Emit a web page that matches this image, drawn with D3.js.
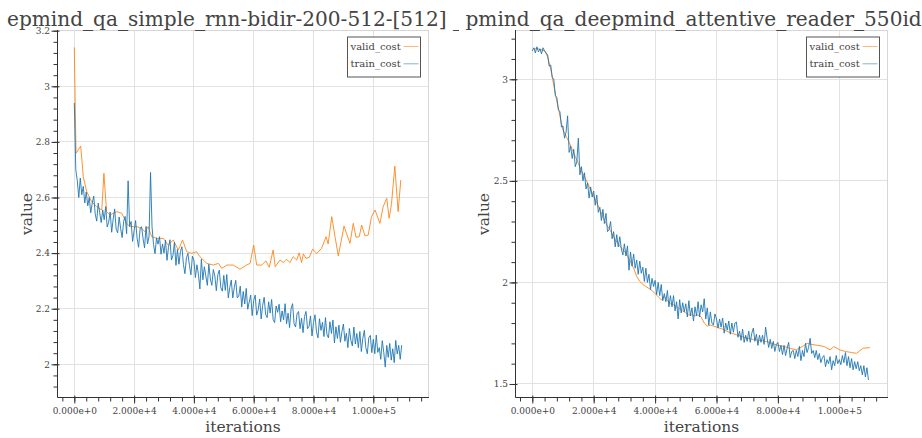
<!DOCTYPE html>
<html><head><meta charset="utf-8">
<script src="https://cdn.jsdelivr.net/npm/d3@7"></script>
<style>
body{margin:0;background:#fff}
svg{display:block}
text{font-family:"DejaVu Serif",serif;fill:#444}
</style>
</head><body>
<svg id="c" width="922" height="438"></svg>
<script>
// ---------------- data ----------------
const seriesNames = ["valid_cost", "train_cost"];
const leftTitle = "epmind_qa_simple_rnn-bidir-200-512-[512] _";
const rightTitle = "pmind_qa_deepmind_attentive_reader_550id";
const xTicks = [0, 20000, 40000, 60000, 80000, 100000];
const leftYTicks = [2, 2.2, 2.4, 2.6, 2.8, 3, 3.2];
const rightYTicks = [1.5, 2, 2.5, 3];
const trainStep = 500; // iterations between logged train_cost points

const leftValidIter = [
  0, 570, 2140, 3000, 4150, 5800, 7500, 9200, 9900, 10800,
  11900, 14200, 15900, 17500, 18600, 20900, 22500, 23600, 24700, 25900,
  27600, 29800, 31400, 33100, 34800, 36200, 37600, 39300, 40900, 42000,
  44300, 46500, 48200, 49300, 51000, 53200, 55400, 57600, 58800, 60000,
  61000, 62700, 64100, 65200, 66500, 67200, 68800, 69900, 71000, 72100,
  73200, 74400, 75200, 76000, 76600, 77500, 78600, 79700, 81100, 82700,
  84200, 84900, 86100, 87200, 88300, 90200, 92200, 93300, 94200, 95300,
  96100, 97200, 98300, 99400, 100600, 102200, 103300, 104500, 105300, 106100,
  107200, 108300, 109200];
const leftValidCost = [
  3.140, 2.759, 2.785, 2.675, 2.621, 2.585, 2.567, 2.555, 2.687, 2.549,
  2.537, 2.549, 2.543, 2.507, 2.495, 2.495, 2.489, 2.477, 2.495, 2.459,
  2.453, 2.453, 2.429, 2.447, 2.411, 2.447, 2.405, 2.399, 2.405, 2.387,
  2.363, 2.357, 2.363, 2.345, 2.357, 2.357, 2.342, 2.357, 2.363, 2.429,
  2.357, 2.357, 2.372, 2.349, 2.411, 2.351, 2.375, 2.366, 2.378, 2.366,
  2.387, 2.375, 2.401, 2.366, 2.397, 2.381, 2.385, 2.414, 2.399, 2.417,
  2.459, 2.433, 2.531, 2.459, 2.390, 2.497, 2.435, 2.507, 2.457, 2.459,
  2.501, 2.462, 2.465, 2.531, 2.555, 2.507, 2.567, 2.597, 2.525, 2.579,
  2.713, 2.549, 2.663];
const leftTrainCost = [
  2.94, 2.70, 2.66, 2.60, 2.67, 2.61, 2.64, 2.58, 2.62, 2.57,
  2.60, 2.545, 2.58, 2.605, 2.54, 2.515, 2.58, 2.545, 2.51, 2.555,
  2.52, 2.567, 2.494, 2.511, 2.548, 2.475, 2.522, 2.559, 2.486, 2.473,
  2.53, 2.488, 2.456, 2.514, 2.532, 2.47, 2.66, 2.496, 2.514, 2.442,
  2.48, 2.517, 2.454, 2.421, 2.488, 2.495, 2.452, 2.419, 2.496, 2.433,
  2.46, 2.69, 2.494, 2.431, 2.398, 2.455, 2.432, 2.459, 2.396, 2.433,
  2.40, 2.447, 2.374, 2.421, 2.448, 2.375, 2.392, 2.439, 2.356, 2.413,
  2.36, 2.406, 2.423, 2.359, 2.326, 2.383, 2.399, 2.356, 2.322, 2.389,
  2.375, 2.312, 2.358, 2.325, 2.271, 2.378, 2.304, 2.351, 2.317, 2.284,
  2.36, 2.307, 2.284, 2.341, 2.318, 2.265, 2.322, 2.339, 2.276, 2.263,
  2.32, 2.266, 2.323, 2.239, 2.276, 2.303, 2.239, 2.276, 2.302, 2.239,
  2.245, 2.281, 2.206, 2.262, 2.217, 2.273, 2.198, 2.224, 2.249, 2.175,
  2.23, 2.249, 2.177, 2.196, 2.235, 2.163, 2.212, 2.241, 2.179, 2.168,
  2.225, 2.184, 2.233, 2.161, 2.15, 2.21, 2.187, 2.216, 2.153, 2.192,
  2.16, 2.218, 2.146, 2.184, 2.132, 2.20, 2.218, 2.146, 2.134, 2.182,
  2.19, 2.128, 2.166, 2.114, 2.172, 2.19, 2.128, 2.136, 2.174, 2.102,
  2.15, 2.178, 2.117, 2.095, 2.164, 2.122, 2.151, 2.10, 2.168, 2.107,
  2.095, 2.153, 2.111, 2.159, 2.077, 2.135, 2.093, 2.141, 2.079, 2.117,
  2.145, 2.083, 2.112, 2.06, 2.129, 2.087, 2.066, 2.134, 2.073, 2.111,
  2.06, 2.118, 2.046, 2.094, 2.122, 2.06, 2.038, 2.096, 2.104, 2.042,
  2.09, 2.038, 2.105, 2.043, 2.06, 2.018, 2.085, 2.043, 1.99, 2.068,
  2.025, 2.075, 2.015, 2.056, 2.006, 2.086, 2.037, 2.068, 2.018, 2.069];

const rightValidIter = [
  500, 2000, 4000, 5000, 6000, 7000, 8000, 9000, 10000, 11000,
  12000, 13000, 14000, 15000, 16000, 17000, 18000, 19000, 20000, 21000,
  22000, 23000, 24000, 25000, 26000, 27000, 28000, 29000, 30000, 31000,
  32000, 33000, 34000, 35000, 36000, 37000, 38000, 39000, 40000, 41000,
  42000, 43000, 44000, 45000, 46000, 47000, 48000, 49000, 50000, 51000,
  52000, 53000, 54000, 55000, 56000, 57000, 58000, 59000, 60000, 62000,
  64000, 66000, 68000, 70000, 72000, 74000, 76000, 78000, 80000, 82000,
  84000, 86000, 88000, 89500, 91000, 93000, 95000, 97000, 98200, 100200,
  102000, 104000, 105600, 107700, 110000];
const rightValidCost = [
  3.15, 3.15, 3.14, 3.11, 3.05, 2.97, 2.89, 2.82, 2.75, 2.72,
  2.69, 2.655, 2.62, 2.585, 2.55, 2.52, 2.49, 2.455, 2.425, 2.39,
  2.36, 2.32, 2.29, 2.265, 2.24, 2.21, 2.19, 2.17, 2.155, 2.13,
  2.10, 2.07, 2.03, 2.005, 1.99, 1.98, 1.97, 1.96, 1.945, 1.93,
  1.915, 1.93, 1.91, 1.895, 1.89, 1.88, 1.87, 1.86, 1.85, 1.84,
  1.84, 1.835, 1.84, 1.83, 1.80, 1.785, 1.79, 1.785, 1.78, 1.77,
  1.755, 1.745, 1.735, 1.725, 1.72, 1.715, 1.71, 1.70, 1.69, 1.685,
  1.675, 1.668, 1.685, 1.70, 1.695, 1.69, 1.685, 1.668, 1.684, 1.668,
  1.66, 1.655, 1.651, 1.676, 1.679];
const rightTrainCost = [
  3.14, 3.155, 3.13, 3.16, 3.135, 3.15, 3.125, 3.155, 3.14, 3.13,
  3.12, 3.065, 3.07, 3.01, 3.00, 2.92, 2.91, 2.85, 2.84, 2.765,
  2.77, 2.71, 2.74, 2.82, 2.64, 2.67, 2.61, 2.655, 2.57, 2.595,
  2.71, 2.53, 2.57, 2.50, 2.54, 2.46, 2.49, 2.415, 2.47, 2.42,
  2.45, 2.38, 2.43, 2.345, 2.37, 2.305, 2.36, 2.29, 2.34, 2.25,
  2.26, 2.30, 2.215, 2.25, 2.175, 2.235, 2.175, 2.225, 2.165, 2.135,
  2.19, 2.13, 2.18, 2.06, 2.15, 2.08, 2.14, 2.07, 2.11, 2.04,
  2.105, 2.045, 2.075, 2.005, 2.07, 2.00, 2.04, 1.965, 2.02, 1.98,
  2.01, 1.94, 2.00, 1.935, 1.99, 1.91, 1.945, 1.905, 1.96, 1.88,
  1.935, 1.88, 1.935, 1.86, 1.905, 1.82, 1.915, 1.85, 1.90, 1.855,
  1.895, 1.83, 1.91, 1.835, 1.875, 1.81, 1.88, 1.835, 1.905, 1.83,
  1.89, 1.855, 1.92, 1.82, 1.875, 1.79, 1.855, 1.80, 1.79, 1.845,
  1.82, 1.775, 1.82, 1.78, 1.825, 1.75, 1.80, 1.765, 1.81, 1.745,
  1.80, 1.755, 1.80, 1.805, 1.73, 1.76, 1.715, 1.77, 1.705, 1.74,
  1.71, 1.76, 1.705, 1.75, 1.775, 1.71, 1.745, 1.69, 1.74, 1.705,
  1.74, 1.695, 1.78, 1.725, 1.68, 1.72, 1.675, 1.71, 1.66, 1.695,
  1.705, 1.66, 1.69, 1.645, 1.69, 1.64, 1.675, 1.705, 1.63, 1.66,
  1.665, 1.625, 1.665, 1.635, 1.685, 1.615, 1.665, 1.635, 1.70, 1.655,
  1.68, 1.725, 1.65, 1.665, 1.63, 1.665, 1.62, 1.65, 1.605, 1.63,
  1.64, 1.585, 1.62, 1.60, 1.635, 1.57, 1.615, 1.59, 1.64, 1.60,
  1.62, 1.595, 1.64, 1.605, 1.655, 1.59, 1.635, 1.58, 1.625, 1.57,
  1.61, 1.575, 1.61, 1.565, 1.59, 1.545, 1.59, 1.535, 1.58, 1.52];

// ---------------- layout ----------------
const panels = [
  {
    title: leftTitle, titleX: 7, clip: [0, 459],
    frame: {x0: 57.5, x1: 428.5, y0: 30.5, y1: 397.5},
    xDomain: [-5619, 118462], yDomain: [1.8806, 3.2007],
    yTicks: leftYTicks, yMinorStep: 0.04, yFmt: d3.format("~g"),
    valueX: 31.5,
    validIter: leftValidIter, validCost: leftValidCost, trainCost: leftTrainCost
  },
  {
    title: rightTitle, titleX: 465.5, clip: [461, 922],
    frame: {x0: 515.5, x1: 887.5, y0: 30.5, y1: 397.5},
    xDomain: [-5472, 115700], yDomain: [1.4335, 3.2402],
    yTicks: rightYTicks, yMinorStep: 0.1, yFmt: d3.format("~g"),
    valueX: 489,
    validIter: rightValidIter, validCost: rightValidCost, trainCost: rightTrainCost
  }
];
const colors = {valid_cost: "#ff7f0e", train_cost: "#1f77b4"};

const svg = d3.select("#c");
const defs = svg.append("defs");
const xFmt = d => d.toExponential(3);
const crisp = v => Math.floor(v) + 0.5;

panels.forEach((p, i) => {
  const f = p.frame;
  const x = d3.scaleLinear().domain(p.xDomain).range([f.x0, f.x1]);
  const y = d3.scaleLinear().domain(p.yDomain).range([f.y1, f.y0]);
  const g = svg.append("g");

  defs.append("clipPath").attr("id", "plot" + i).append("rect")
    .attr("x", f.x0).attr("y", f.y0).attr("width", f.x1 - f.x0).attr("height", f.y1 - f.y0);
  defs.append("clipPath").attr("id", "title" + i).append("rect")
    .attr("x", p.clip[0]).attr("y", 0).attr("width", p.clip[1] - p.clip[0]).attr("height", 40);

  // grid
  const grid = g.append("g").attr("stroke", "#e2e2e2").attr("stroke-width", 1);
  grid.selectAll(".gx").data(xTicks).join("line")
    .attr("x1", d => crisp(x(d))).attr("x2", d => crisp(x(d)))
    .attr("y1", f.y0).attr("y2", f.y1);
  grid.selectAll(".gy").data(p.yTicks).join("line")
    .attr("y1", d => crisp(y(d))).attr("y2", d => crisp(y(d)))
    .attr("x1", f.x0).attr("x2", f.x1);
  g.append("rect").attr("x", f.x0).attr("y", f.y0).attr("width", f.x1 - f.x0).attr("height", f.y1 - f.y0)
    .attr("fill", "none").attr("stroke", "#d6d6d6");

  // lines
  const lines = g.append("g").attr("clip-path", `url(#plot${i})`).attr("fill", "none");
  const validData = p.validIter.map((it, k) => [it, p.validCost[k]]);
  const trainData = p.trainCost.map((v, k) => [k * trainStep, v]);
  const lineGen = d3.line().x(d => x(d[0])).y(d => y(d[1]));
  lines.append("path").datum(validData).attr("d", lineGen)
    .attr("stroke", colors.valid_cost).attr("stroke-width", 1).attr("stroke-opacity", 0.85);
  lines.append("path").datum(trainData).attr("d", lineGen)
    .attr("stroke", colors.train_cost).attr("stroke-width", 1).attr("stroke-opacity", 0.9);

  // axes
  const xMinor = d3.range(Math.ceil(p.xDomain[0] / 4000) * 4000, p.xDomain[1], 4000);
  const yMinor = d3.range(Math.ceil(p.yDomain[0] / p.yMinorStep), p.yDomain[1] / p.yMinorStep)
    .map(k => +(k * p.yMinorStep).toFixed(4));

  const ax = g.append("g").attr("transform", `translate(0,${f.y1})`)
    .call(d3.axisBottom(x).tickValues(xTicks).tickFormat(xFmt).tickSize(6).tickPadding(4));
  const axm = g.append("g").attr("transform", `translate(0,${f.y1})`)
    .call(d3.axisBottom(x).tickValues(xMinor).tickFormat("").tickSize(4));
  const ay = g.append("g").attr("transform", `translate(${f.x0},0)`)
    .call(d3.axisLeft(y).tickValues(p.yTicks).tickFormat(p.yFmt).tickSize(6).tickPadding(1.5));
  const aym = g.append("g").attr("transform", `translate(${f.x0},0)`)
    .call(d3.axisLeft(y).tickValues(yMinor).tickFormat("").tickSize(4));
  [axm, aym].forEach(a => a.select(".domain").remove());
  ax.selectAll(".tick line").attr("y1", -2);
  ay.selectAll(".tick line").attr("x1", 2);
  [ax, axm, ay, aym].forEach(a => {
    a.selectAll("line").attr("stroke", "#333");
    a.select(".domain").attr("stroke", "#333");
    a.selectAll("text").attr("font-family", "DejaVu Serif").attr("font-size", 9).attr("fill", "#444");
  });
  ax.select(".domain").attr("d", `M${f.x0},0H${f.x1 + 0.5}`);
  ay.select(".domain").attr("d", `M0,${f.y0 - 0.5}V${f.y1}`);

  // axis labels
  g.append("text").attr("x", (f.x0 + f.x1) / 2).attr("y", 432).attr("text-anchor", "middle")
    .attr("font-size", 15.5).text("iterations");
  g.append("text").attr("transform", `translate(${p.valueX},${(f.y0 + f.y1) / 2}) rotate(-90)`)
    .attr("text-anchor", "middle").attr("font-size", 15.5).text("value");

  // title
  g.append("text").attr("clip-path", `url(#title${i})`).attr("x", p.titleX).attr("y", 26)
    .attr("font-size", 20.1).text(p.title);

  // legend
  const lx = f.x1 - 81, ly = f.y0 + 6.5;
  const lg = g.append("g").attr("transform", `translate(${lx},${ly})`);
  lg.append("rect").attr("x", 0).attr("y", 0).attr("width", 73).attr("height", 40)
    .attr("fill", "#fff").attr("stroke", "#555");
  seriesNames.forEach((s, k) => {
    lg.append("text").attr("x", 3).attr("y", 12.5 + k * 17.3).attr("font-size", 10).text(s);
    lg.append("line").attr("x1", 56).attr("x2", 71).attr("y1", 9.5 + k * 17.3).attr("y2", 9.5 + k * 17.3)
      .attr("stroke", colors[s]).attr("stroke-opacity", 0.55);
  });
});
</script>
</body></html>
